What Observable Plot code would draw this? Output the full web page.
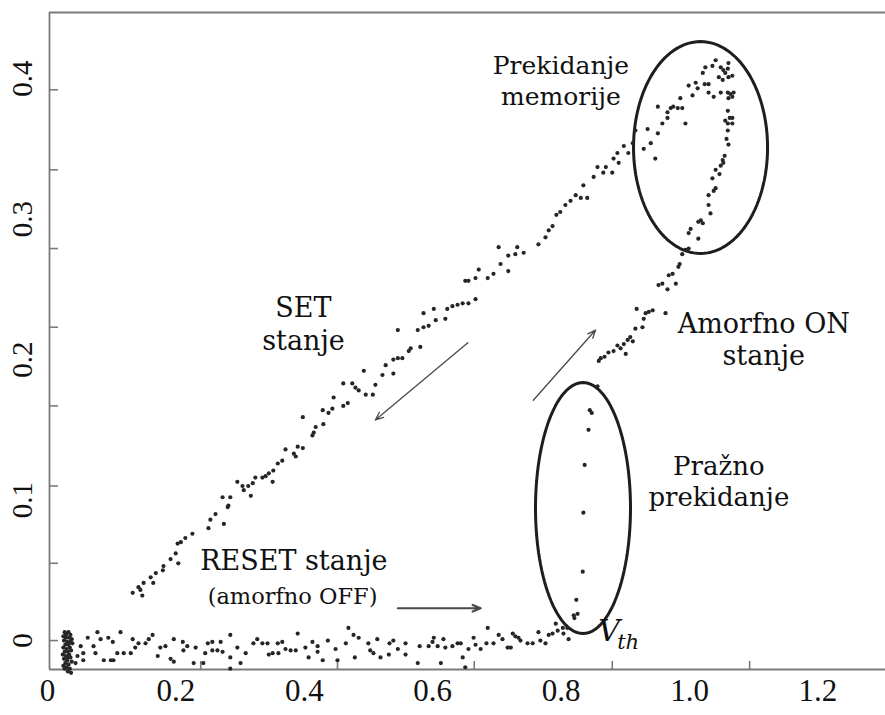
<!DOCTYPE html>
<html><head><meta charset="utf-8">
<script src="https://cdn.jsdelivr.net/npm/d3@7"></script>
<script src="https://cdn.jsdelivr.net/npm/@observablehq/plot@0.6"></script>
<style>html,body{margin:0;padding:0;background:#fff} svg{display:block}</style>
</head><body><div id="chart"></div>
<script>
// ---- data (voltage, current) ----
const resetCluster = [[0.022,0.006],[0.025,0.005],[0.028,0.006],[0.031,0.004],[0.020,0.003],[0.024,0.002],[0.029,0.002],[0.033,0.001],[0.021,0.000],[0.026,-0.001],[0.031,-0.001],[0.023,-0.003],[0.028,-0.003],[0.034,-0.002],[0.020,-0.005],[0.025,-0.006],[0.030,-0.005],[0.022,-0.008],[0.027,-0.008],[0.032,-0.007],[0.019,-0.010],[0.024,-0.011],[0.029,-0.010],[0.021,-0.013],[0.026,-0.014],[0.031,-0.012],[0.023,-0.016],[0.028,-0.017],[0.033,-0.015],[0.020,-0.018],[0.025,-0.019],[0.030,-0.020],[0.027,-0.022],[0.032,-0.023],[0.024,0.004],[0.027,-0.012],[0.022,-0.020]];
const resetBranch = [[0.073,0.006],[0.090,0.002],[0.109,0.006],[0.097,-0.001],[0.078,0.001],[0.067,-0.004],[0.058,0.002],[0.047,-0.004],[0.051,-0.009],[0.042,-0.011],[0.039,-0.016],[0.051,-0.014],[0.070,-0.009],[0.083,-0.014],[0.094,-0.014],[0.098,-0.014],[0.104,-0.009],[0.114,-0.009],[0.125,-0.009],[0.128,0.001],[0.132,-0.005],[0.137,-0.002],[0.148,-0.002],[0.153,0.001],[0.159,0.004],[0.167,-0.011],[0.171,-0.005],[0.179,-0.004],[0.187,-0.013],[0.192,-0.015],[0.192,0.001],[0.206,-0.001],[0.207,-0.007],[0.213,-0.004],[0.223,-0.016],[0.226,-0.005],[0.241,-0.009],[0.238,-0.016],[0.245,-0.002],[0.252,-0.001],[0.252,-0.007],[0.260,-0.007],[0.265,-0.001],[0.268,-0.008],[0.280,0.004],[0.280,-0.012],[0.280,-0.020],[0.291,-0.005],[0.296,-0.016],[0.304,-0.009],[0.316,-0.002],[0.322,0.001],[0.330,-0.002],[0.338,-0.002],[0.340,-0.010],[0.346,-0.009],[0.354,-0.002],[0.355,-0.009],[0.361,-0.001],[0.366,-0.006],[0.374,-0.007],[0.382,-0.007],[0.385,0.005],[0.397,-0.005],[0.402,-0.012],[0.408,-0.001],[0.416,-0.004],[0.416,-0.008],[0.424,-0.014],[0.432,0.000],[0.444,-0.006],[0.447,-0.014],[0.460,-0.002],[0.464,0.009],[0.472,0.004],[0.474,-0.012],[0.480,0.002],[0.495,-0.002],[0.498,-0.007],[0.503,-0.009],[0.509,0.001],[0.514,-0.012],[0.527,-0.010],[0.528,-0.002],[0.534,0.000],[0.541,-0.006],[0.553,-0.002],[0.553,-0.010],[0.572,-0.016],[0.575,-0.004],[0.589,-0.004],[0.595,-0.001],[0.597,0.002],[0.603,-0.004],[0.608,-0.016],[0.612,0.001],[0.615,-0.005],[0.626,-0.004],[0.634,-0.002],[0.639,-0.002],[0.642,-0.012],[0.646,-0.019],[0.651,-0.006],[0.659,0.002],[0.662,-0.003],[0.670,-0.006],[0.681,0.009],[0.679,-0.002],[0.690,-0.002],[0.698,0.004],[0.704,0.001],[0.712,-0.005],[0.717,-0.005],[0.720,0.005],[0.724,0.003],[0.729,0.002],[0.732,0.000],[0.743,-0.002],[0.751,-0.002],[0.760,0.006],[0.763,0.000],[0.771,-0.002],[0.776,0.004],[0.782,0.005],[0.787,0.012],[0.790,0.007],[0.798,0.009],[0.799,0.005],[0.807,0.001],[0.805,0.009]];
const thresholdBranch = [[0.815,0.018],[0.821,0.019],[0.816,0.016],[0.819,0.029],[0.829,0.049],[0.830,0.091],[0.832,0.125],[0.838,0.150],[0.840,0.164],[0.843,0.162],[0.852,0.181]];
const onBranch = [[0.854,0.199],[0.857,0.201],[0.863,0.202],[0.869,0.205],[0.877,0.206],[0.883,0.210],[0.888,0.208],[0.896,0.204],[0.893,0.211],[0.899,0.214],[0.907,0.213],[0.903,0.216],[0.911,0.222],[0.922,0.223],[0.924,0.229],[0.913,0.236],[0.927,0.233],[0.932,0.234],[0.938,0.235],[0.958,0.233],[0.961,0.250],[0.947,0.253],[0.953,0.254],[0.974,0.254],[0.963,0.260],[0.969,0.261],[0.978,0.266],[0.980,0.268],[0.984,0.275],[0.989,0.278],[0.994,0.279],[1.009,0.286],[0.994,0.290],[0.997,0.293],[1.009,0.298],[1.013,0.299],[1.016,0.297],[1.028,0.304],[1.025,0.310],[1.025,0.317],[1.033,0.320],[1.036,0.322],[1.031,0.329],[1.042,0.332],[1.036,0.335],[1.044,0.338],[1.048,0.340],[1.047,0.342],[1.050,0.345],[1.056,0.353],[1.053,0.357],[1.055,0.363],[1.062,0.368],[1.055,0.368],[1.051,0.370],[1.062,0.372],[1.058,0.372],[1.055,0.377],[1.056,0.386],[1.062,0.387],[1.064,0.390],[1.059,0.389],[1.055,0.390],[1.044,0.390],[1.062,0.402],[1.056,0.401],[1.047,0.399],[1.041,0.401],[1.051,0.404],[1.055,0.407],[1.056,0.411],[1.048,0.406],[1.044,0.408],[1.036,0.413],[1.031,0.409]];
const setBranch = [[1.020,0.408],[1.016,0.404],[1.019,0.396],[1.025,0.396],[1.033,0.387],[1.025,0.390],[1.008,0.393],[1.005,0.397],[1.000,0.388],[0.994,0.395],[0.989,0.368],[0.984,0.379],[0.981,0.386],[0.977,0.379],[0.970,0.380],[0.966,0.379],[0.961,0.376],[0.961,0.372],[0.953,0.368],[0.946,0.380],[0.946,0.361],[0.942,0.343],[0.935,0.354],[0.930,0.364],[0.924,0.350],[0.911,0.363],[0.907,0.354],[0.900,0.347],[0.893,0.352],[0.885,0.340],[0.883,0.347],[0.877,0.343],[0.875,0.333],[0.865,0.337],[0.861,0.333],[0.852,0.337],[0.846,0.330],[0.836,0.315],[0.830,0.324],[0.826,0.315],[0.818,0.317],[0.810,0.313],[0.802,0.310],[0.794,0.305],[0.788,0.303],[0.782,0.295],[0.776,0.292],[0.771,0.287],[0.760,0.282],[0.737,0.276],[0.724,0.275],[0.727,0.280],[0.698,0.280],[0.713,0.274],[0.701,0.268],[0.713,0.263],[0.690,0.261],[0.681,0.258],[0.667,0.264],[0.662,0.258],[0.651,0.256],[0.646,0.256],[0.662,0.243],[0.651,0.240],[0.642,0.240],[0.634,0.239],[0.626,0.238],[0.618,0.236],[0.615,0.229],[0.597,0.236],[0.600,0.228],[0.581,0.233],[0.589,0.224],[0.581,0.223],[0.572,0.221],[0.541,0.221],[0.576,0.209],[0.561,0.208],[0.558,0.206],[0.548,0.201],[0.541,0.201],[0.534,0.200],[0.522,0.196],[0.534,0.190],[0.517,0.189],[0.506,0.182],[0.488,0.192],[0.475,0.180],[0.470,0.183],[0.456,0.183],[0.480,0.178],[0.491,0.175],[0.502,0.175],[0.441,0.173],[0.463,0.169],[0.456,0.167],[0.439,0.165],[0.424,0.164],[0.433,0.162],[0.425,0.154],[0.413,0.152],[0.410,0.148],[0.408,0.146],[0.393,0.159],[0.385,0.138],[0.393,0.137],[0.366,0.136],[0.379,0.133],[0.382,0.131],[0.361,0.128],[0.354,0.126],[0.347,0.121],[0.340,0.119],[0.335,0.117],[0.330,0.116],[0.319,0.116],[0.315,0.112],[0.308,0.110],[0.346,0.113],[0.299,0.110],[0.291,0.113],[0.301,0.107],[0.312,0.103],[0.280,0.102],[0.277,0.096],[0.276,0.095],[0.268,0.102],[0.257,0.090],[0.249,0.086],[0.246,0.080],[0.270,0.083],[0.221,0.076],[0.210,0.073],[0.203,0.070],[0.198,0.069],[0.195,0.062],[0.187,0.058],[0.199,0.055],[0.176,0.053],[0.175,0.050],[0.164,0.048],[0.156,0.045],[0.160,0.041],[0.145,0.041],[0.137,0.038],[0.140,0.036],[0.128,0.034],[0.143,0.032]];

// axes: tick labels and tick-mark positions as seen in the picture
const xLabelValues = [0, 0.2, 0.4, 0.6, 0.8, 1.0, 1.2];
const xLabelTexts = ["0", "0.2", "0.4", "0.6", "0.8", "1.0", "1.2"];
const xTickMarks = [0.234, 0.447, 0.660, 0.875, 1.089];
const yLabelValues = [0, 0.1, 0.2, 0.3, 0.4];
const yLabelTexts = ["0", "0.1", "0.2", "0.3", "0.4"];
const yTickMarks = [0, 0.055, 0.110, 0.167, 0.223, 0.279, 0.335, 0.392];

// annotations
const noteTexts = ["Prekidanje\nmemorije", "SET\nstanje", "RESET stanje", "(amorfno OFF)", "Amorfno ON\nstanje", "Pražno\nprekidanje"];
const noteX = [0.795, 0.394, 0.379, 0.377, 1.111, 1.041];
const noteY = [0.399, 0.226, 0.058, 0.032, 0.215, 0.114];
const noteSize = [25, 27, 27, 22.5, 27, 26];
const ellipseCx = [1.0125, 0.8294];
const ellipseCy = [0.3509, 0.0943];
const ellipseRx = [0.1044, 0.0740];
const ellipseRy = [0.0754, 0.0893];
const arrowX1 = [0.650, 0.752, 0.541];
const arrowY1 = [0.212, 0.171, 0.023];
const arrowX2 = [0.506, 0.849, 0.670];
const arrowY2 = [0.157, 0.221, 0.023];
const arrowWidth = [1.3, 1.3, 2.2];
const vthX = 0.853, vthY = 0.005;

const xDomain = [-0.0016, 1.3006];
const yDomain = [-0.0206, 0.447];

const points = [
  ...resetCluster, ...resetBranch, ...thresholdBranch, ...onBranch, ...setBranch
].map(([v, i]) => ({v, i}));

const ellipsePts = [];
ellipseCx.forEach((cx, k) => {
  for (let a = 0; a <= 360; a += 3) {
    const t = a * Math.PI / 180;
    ellipsePts.push({k, x: cx + ellipseRx[k] * Math.cos(t), y: ellipseCy[k] + ellipseRy[k] * Math.sin(t)});
  }
});
const arrows = arrowX1.map((x1, k) => ({x1, y1: arrowY1[k], x2: arrowX2[k], y2: arrowY2[k], w: arrowWidth[k]}));
const notes = noteTexts.map((t, k) => ({t, x: noteX[k], y: noteY[k], s: noteSize[k]}));

const axisColor = "#7a7a7a";
const serif = "'Liberation Serif', 'DejaVu Serif', serif";
const noteFont = "'DejaVu Serif', 'Liberation Serif', serif";

const chart = Plot.plot({
  width: 885, height: 715,
  marginLeft: 49, marginRight: 0, marginTop: 12, marginBottom: 46,
  x: {domain: xDomain, axis: null},
  y: {domain: yDomain, axis: null},
  style: {fontFamily: serif, background: "#fff", overflow: "visible"},
  marks: [
    Plot.ruleX([xDomain[0]], {stroke: axisColor, strokeWidth: 1.8}),
    Plot.ruleY([yDomain[0], yDomain[1]], {stroke: axisColor, strokeWidth: 1.8}),
    Plot.ruleX(xTickMarks, {x: d => d, y1: yDomain[0], y2: yDomain[0] + 0.0057, stroke: axisColor, strokeWidth: 1.6}),
    Plot.ruleY(yTickMarks, {y: d => d, x1: xDomain[0], x2: xDomain[0] + 0.014, stroke: axisColor, strokeWidth: 1.6}),
    Plot.text(xLabelValues, {x: d => d, y: () => yDomain[0], text: (d, k) => xLabelTexts[k], dy: 22, dx: -3, fontSize: 31, fill: "#111", lineAnchor: "middle"}),
    Plot.text(yLabelValues, {x: () => xDomain[0], y: d => d, text: (d, k) => yLabelTexts[k], rotate: -90, dx: -27, fontSize: 29, fill: "#111", textAnchor: "middle", lineAnchor: "middle"}),
    Plot.line(ellipsePts, {x: "x", y: "y", z: "k", stroke: "#1e1e1e", strokeWidth: 3}),
    Plot.arrow(arrows, {x1: "x1", y1: "y1", x2: "x2", y2: "y2", stroke: "#4a4a4a", strokeWidth: "w", headLength: 13, headAngle: 45}),
    Plot.dot(points, {x: "v", y: "i", r: 2.1, fill: "#262626"}),
    Plot.text(notes, {x: "x", y: "y", text: "t", fontSize: "s", fontFamily: noteFont, lineHeight: 1.22, fill: "#111", textAnchor: "middle", lineAnchor: "middle"}),
    Plot.text([vthX], {x: d => d, y: () => vthY, text: () => "V", fontSize: 30, fontFamily: noteFont, fontStyle: "italic", textAnchor: "start", lineAnchor: "middle", dy: -2, fill: "#111"}),
    Plot.text([vthX], {x: d => d, y: () => vthY, text: () => "th", fontSize: 21, fontFamily: noteFont, fontStyle: "italic", textAnchor: "start", lineAnchor: "middle", dx: 19, dy: 9, fill: "#111"})
  ]
});
document.getElementById("chart").appendChild(chart);
</script>
</body></html>
